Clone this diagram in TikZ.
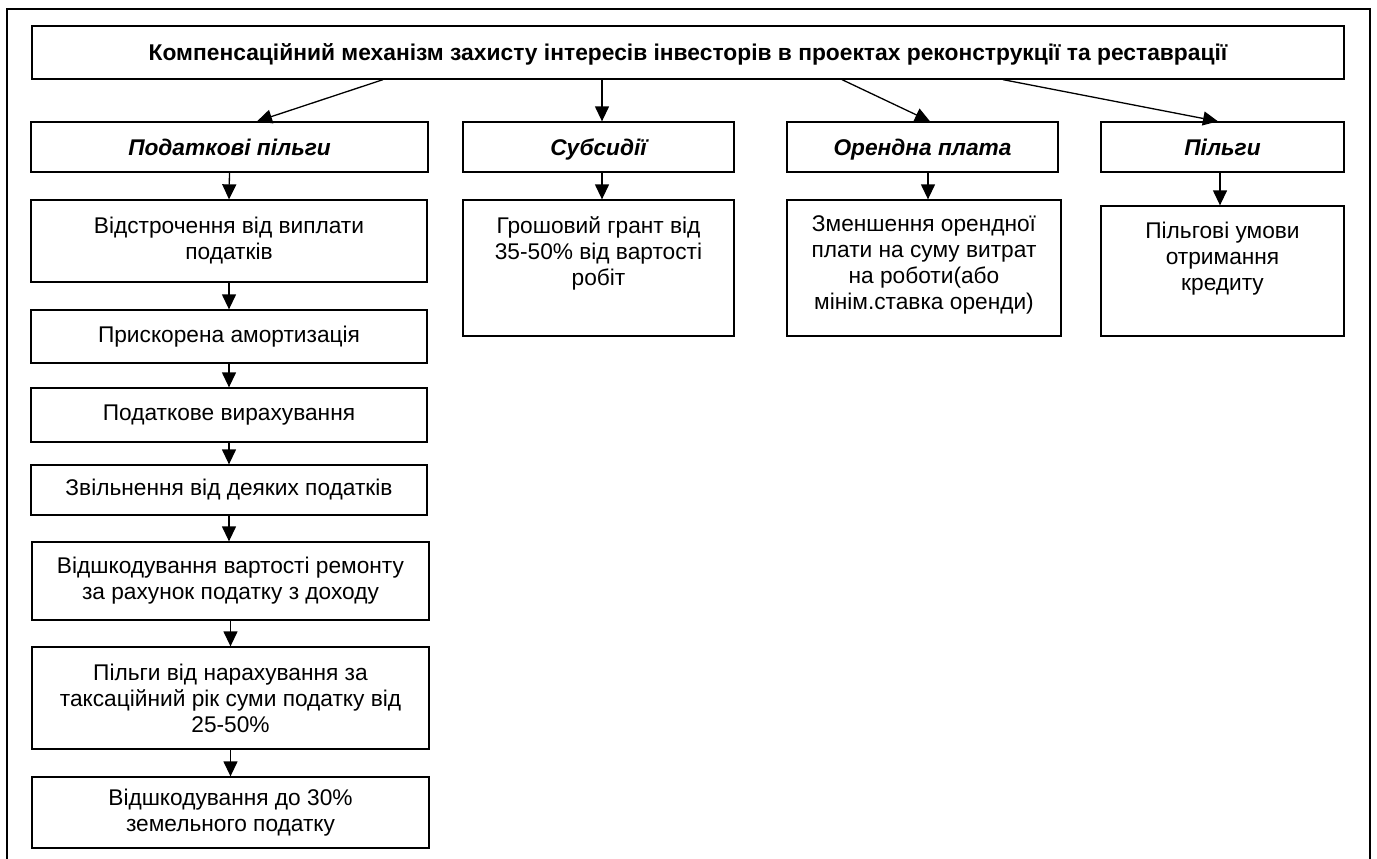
\documentclass[tikz,border=0pt]{standalone}
\usepackage{fontspec}
\setmainfont{Liberation Sans}
\usetikzlibrary{arrows.meta}
\tikzset{
  box/.style={draw, line width=1.3pt, inner sep=0pt, align=center, font=\fontsize{22.7}{26}\selectfont},
  headbox/.style={box, text height=16pt, text depth=0pt, font=\fontsize{22.7}{26}\selectfont\bfseries\itshape},
  titlebox/.style={box, text height=16pt, text depth=0pt, font=\fontsize{22.8}{26}\selectfont\bfseries},
  arr/.style={line width=1.3pt, -{Triangle[length=15pt,width=14pt]}},
  frame/.style={line width=1.8pt}
}
\begin{document}
\begin{tikzpicture}[x=1pt,y=-1pt]
\useasboundingbox (0,0) rectangle (1377,859);
\draw[frame] (7,859) -- (7,9) -- (1370,9) -- (1370,859);
\node[titlebox, minimum width=1312pt, minimum height=53pt] (title) at (688,52.5)
  {Компенсаційний механізм захисту інтересів інвесторів в проектах реконструкції та реставрації};
% header row
\node[headbox, minimum width=397pt, minimum height=50pt] (h1) at (229.5,147) {Податкові пільги};
\node[headbox, minimum width=271pt, minimum height=50pt] (h2) at (598.5,147) {Субсидії};
\node[headbox, minimum width=271pt, minimum height=50pt] (h3) at (922.5,147) {Орендна плата};
\node[headbox, minimum width=243pt, minimum height=50pt] (h4) at (1222.5,147) {Пільги};
% left column
\node[box, minimum width=396pt, minimum height=82pt] (b1) at (229,241) {Відстрочення від виплати\\податків};
\node[box, minimum width=396pt, minimum height=53pt] (b2) at (229,336.5) {Прискорена амортизація};
\node[box, minimum width=396pt, minimum height=54pt] (b3) at (229,415) {Податкове вирахування};
\node[box, minimum width=396pt, minimum height=50pt] (b4) at (229,490) {Звільнення від деяких податків};
\node[box, minimum width=397pt, minimum height=78pt] (b5) at (230.5,581) {Відшкодування вартості ремонту\\за рахунок податку з доходу};
\node[box, minimum width=397pt, minimum height=102pt] (b6) at (230.5,698) {Пільги від нарахування за\\таксаційний рік суми податку від\\25-50\%};
\node[box, minimum width=397pt, minimum height=71pt] (b7) at (230.5,812.5) {Відшкодування до 30\%\\земельного податку};
% detail boxes
\node[box] (d2) at (598.5,268) {\parbox[c][136pt][t]{271pt}{\centering\vspace*{17pt}Грошовий грант від\\35-50\% від вартості\\робіт}};
\node[box] (d3) at (924,268) {\parbox[c][136pt][t]{274pt}{\centering\vspace*{16pt}Зменшення орендної\\плати на суму витрат\\на роботи(або\\мінім.ставка оренди)}};
\node[box] (d4) at (1222.5,271) {\parbox[c][130pt][t]{243pt}{\centering\vspace*{16pt}Пільгові умови\\отримання\\кредиту}};
% arrows from title
\draw[arr] ([xshift=-305pt]title.south) -- ([xshift=27.5pt]h1.north);
\draw[arr] ([xshift=-86pt]title.south) -- ([xshift=3.5pt]h2.north);
\draw[arr] ([xshift=154pt]title.south) -- ([xshift=7.5pt]h3.north);
\draw[arr] ([xshift=315pt]title.south) -- ([xshift=-4.5pt]h4.north);
% header to details
\draw[arr] (h1.south) -- (b1.north);
\draw[arr] ([xshift=3.5pt]h2.south) -- ([xshift=3.5pt]d2.north);
\draw[arr] ([xshift=5.5pt]h3.south) -- ([xshift=4pt]d3.north);
\draw[arr] ([xshift=-2.5pt]h4.south) -- ([xshift=-2.5pt]d4.north);
% left chain
\draw[arr] (b1.south) -- (b2.north);
\draw[arr] (b2.south) -- (b3.north);
\draw[arr] (b3.south) -- (b4.north);
\draw[arr] (b4.south) -- (b4.south |- b5.north);
\draw[arr] (b5.south) -- (b6.north);
\draw[arr] (b6.south) -- (b7.north);
\end{tikzpicture}
\end{document}
